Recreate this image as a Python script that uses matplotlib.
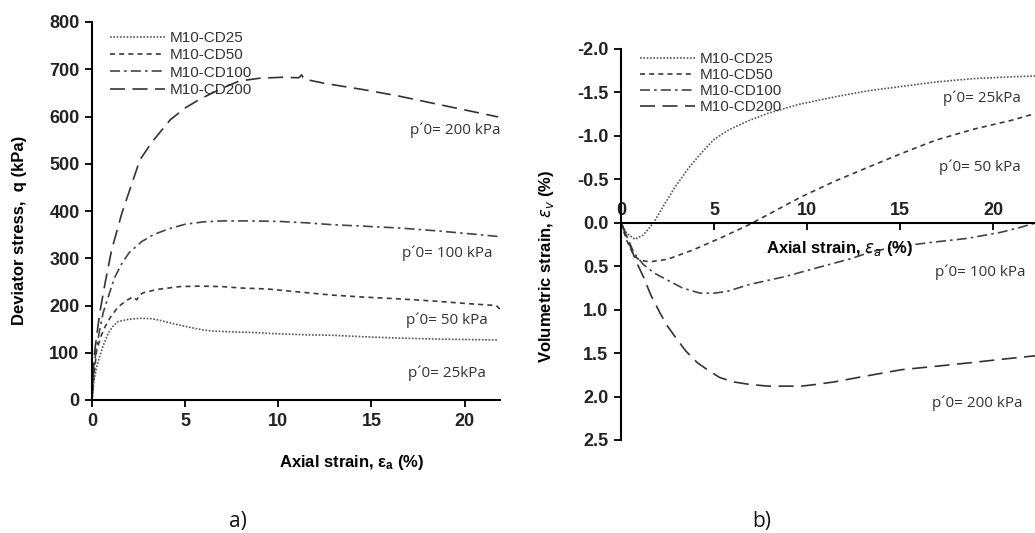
# Curvas de ensayos triaxiales CD: q vs ea y ev vs ea
import numpy as np
import matplotlib
matplotlib.use("Agg")
import matplotlib.pyplot as plt

# Datos (a) - tension desviadora
ea25_a = [0, 0.1, 0.25, 0.41, 0.6, 0.87, 1.1, 1.4, 2.0, 2.66, 3.2, 3.6, 4.3, 5.1, 6.0, 6.5, 7.5, 8.6, 10, 11.5, 12.9, 14.5, 16.5, 18.5, 20, 21.8]
q25 = [0, 40, 70, 92, 115, 141, 155, 166, 171, 173, 172, 169, 162, 155, 148, 146, 144, 143, 140, 138, 137, 134, 131, 129, 128, 127]

ea50_a = [0, 0.1, 0.25, 0.45, 0.7, 1.0, 1.4, 1.9, 2.2, 2.4, 2.55, 2.75, 3.5, 4.7, 5.8, 7.0, 8.0, 9.4, 11, 12.9, 14.5, 16.5, 18.5, 20.5, 21.7, 21.9]
q50 = [0, 50, 105, 132, 155, 176, 197, 212, 218, 212, 222, 227, 234, 240, 241, 240, 237, 235, 229, 222, 218, 214, 209, 203, 200, 192]

ea100_a = [0, 0.1, 0.2, 0.41, 0.6, 0.87, 1.2, 1.6, 2.0, 2.66, 3.3, 4.1, 5.0, 6.0, 7.0, 8.5, 10, 11.5, 12.9, 14.5, 16.5, 18.5, 20.5, 21.8]
q100 = [0, 60, 100, 148, 185, 218, 258, 289, 312, 335, 350, 362, 372, 377, 379, 379, 378, 375, 371, 368, 364, 358, 351, 346]

ea200_a = [0, 0.05, 0.15, 0.41, 0.7, 1.05, 1.6, 2.2, 2.57, 3.2, 4.2, 5.0, 5.8, 7.0, 7.9, 9.0, 10.2, 11.1, 11.25, 11.4, 12.5, 14.7, 16.5, 18.3, 20.0, 21.8]
q200 = [0, 50, 105, 183, 247, 317, 395, 465, 508, 545, 593, 618, 637, 660, 675, 681, 683, 682, 688, 679, 670, 656, 643, 628, 614, 599]

# Datos (b) - deformacion volumetrica
ea25_b = [0, 0.3, 0.75, 1.2, 1.75, 2.3, 2.9, 3.6, 4.3, 5.0, 5.8, 6.8, 7.9, 9.5, 11.5, 13.3, 15.1, 16.9, 19, 21, 22.3]
ev25 = [0, 0.12, 0.19, 0.14, 0.0, -0.2, -0.41, -0.62, -0.8, -0.96, -1.07, -1.17, -1.26, -1.36, -1.45, -1.52, -1.57, -1.62, -1.66, -1.68, -1.69]

ea50_b = [0, 0.3, 0.7, 1.0, 1.55, 2.5, 3.9, 5.5, 6.9, 8.3, 9.7, 11.5, 13.4, 15.1, 16.9, 19, 21, 22.3]
ev50 = [0, 0.2, 0.38, 0.43, 0.45, 0.42, 0.31, 0.16, 0.02, -0.14, -0.3, -0.48, -0.65, -0.8, -0.95, -1.08, -1.18, -1.26]

ea100_b = [0, 0.3, 0.7, 1.2, 1.8, 2.5, 3.3, 4.25, 5.0, 5.7, 6.9, 8.8, 10.5, 12.4, 13.5, 15, 16.9, 18.6, 20.4, 21.5, 22.3]
ev100 = [0, 0.15, 0.35, 0.48, 0.58, 0.66, 0.75, 0.81, 0.81, 0.79, 0.71, 0.62, 0.52, 0.41, 0.33, 0.27, 0.22, 0.18, 0.11, 0.05, 0.0]

ea200_b = [0, 0.2, 0.5, 0.8, 1.2, 1.6, 2.1, 2.5, 3.0, 3.5, 4.1, 4.7, 5.3, 6.0, 6.9, 7.9, 9.0, 9.7, 10.5, 11.5, 13, 15.1, 17, 18.8, 20.5, 22.3]
ev200 = [0, 0.1, 0.27, 0.44, 0.62, 0.83, 1.04, 1.19, 1.34, 1.48, 1.61, 1.7, 1.78, 1.83, 1.86, 1.88, 1.88, 1.88, 1.86, 1.83, 1.77, 1.69, 1.65, 1.61, 1.57, 1.53]

etiquetas = ["M10-CD25", "M10-CD50", "M10-CD100", "M10-CD200"]
presiones = ["p´0= 25kPa", "p´0= 50 kPa", "p´0= 100 kPa", "p´0= 200 kPa"]

estilos = [(0, (1, 1)), (0, (3, 2.5)), (0, (6, 2.5, 1.5, 2.5)), (0, (9, 4.5))]
colores = ["#555555", "#3a3a3a", "#444444", "#333333"]

W, H = 1035, 533
fig = plt.figure(figsize=(W / 100, H / 100), dpi=100)

def caja(x0, y0, x1, y1):
    # pixeles -> fraccion de figura
    return [x0 / W, 1 - y1 / H, (x1 - x0) / W, (y1 - y0) / H]

tick_font = dict(family="Liberation Sans", weight="bold", size=13)
lab_font = dict(family="Liberation Sans", weight="bold", size=12)
ann_font = dict(family="Open Sans", size=11, color="#333333")
leg_font = dict(family="Liberation Sans", size=11)

# ---------- a) ----------
ax1 = fig.add_axes(caja(92, 22, 500, 400))
datos_a = [(ea25_a, q25), (ea50_a, q50), (ea100_a, q100), (ea200_a, q200)]
for (x, y), ls, c, lab in zip(datos_a, estilos, colores, etiquetas):
    ax1.plot(x, y, linestyle=ls, color=c, lw=1.2, label=lab)
ax1.set_xlim(0, 21.9)
ax1.set_ylim(0, 800)
ax1.set_xticks([0, 5, 10, 15, 20])
ax1.set_yticks(range(0, 801, 100))
ax1.spines["top"].set_visible(False)
ax1.spines["right"].set_visible(False)
for s in ["left", "bottom"]:
    ax1.spines[s].set_linewidth(1.5)
ax1.tick_params(direction="out", length=5, width=1.3, pad=4)
for t in ax1.get_xticklabels() + ax1.get_yticklabels():
    t.set_fontproperties(matplotlib.font_manager.FontProperties(**tick_font))
    t.set_color("#222222")
ax1.legend(loc="upper left", bbox_to_anchor=(110 / W, 1 - 31 / H), bbox_transform=fig.transFigure,
           frameon=False, borderpad=0, borderaxespad=0, handlelength=3.6, handletextpad=0.3,
           labelspacing=0.22, prop=leg_font, labelcolor="#333333")

fig.text(20 / W, 1 - 230 / H, "Deviator stress,  q (kPa)", rotation=90, ha="center", va="center", **lab_font)
fig.text(352 / W, 1 - 463 / H, r"Axial strain, $\mathregular{\varepsilon_a}$ (%)", ha="center", va="center", **lab_font)
pos_a = [(447, 373), (447, 320), (447, 253), (455, 130)]
for (px, py), txt in zip(pos_a, presiones):
    fig.text(px / W, 1 - py / H, txt, ha="center", va="center", **ann_font)
fig.text(238 / W, 1 - 522 / H, "a)", ha="center", va="center", family="Open Sans", size=15, color="#111111")

# ---------- b) ----------
ax2 = fig.add_axes(caja(621, 49, 1036, 440))
datos_b = [(ea25_b, ev25), (ea50_b, ev50), (ea100_b, ev100), (ea200_b, ev200)]
for (x, y), ls, c, lab in zip(datos_b, estilos, colores, etiquetas):
    ax2.plot(x, y, linestyle=ls, color=c, lw=1.2, label=lab)
ax2.set_xlim(0, 22.3)
ax2.set_ylim(2.5, -2.0)
ax2.set_yticks(np.arange(-2.0, 2.51, 0.5))
ax2.set_yticklabels(["%.1f" % v for v in np.arange(-2.0, 2.51, 0.5)])
ax2.set_xticks([0, 5, 10, 15, 20])
ax2.spines["right"].set_visible(False)
ax2.spines["bottom"].set_visible(False)
ax2.spines["top"].set_position(("data", 0))
ax2.spines["top"].set_linewidth(1.5)
ax2.spines["left"].set_linewidth(1.5)
ax2.xaxis.tick_top()
ax2.tick_params(axis="x", direction="in", length=5, width=1.3, pad=3)
ax2.tick_params(axis="y", direction="out", length=5, width=1.3, pad=4)
for t in ax2.get_xticklabels() + ax2.get_yticklabels():
    t.set_fontproperties(matplotlib.font_manager.FontProperties(**tick_font))
    t.set_color("#222222")
ax2.legend(loc="upper left", bbox_to_anchor=(640 / W, 1 - 52 / H), bbox_transform=fig.transFigure,
           frameon=False, borderpad=0, borderaxespad=0, handlelength=3.6, handletextpad=0.3,
           labelspacing=0.13, prop=leg_font, labelcolor="#333333")

fig.text(547 / W, 1 - 266 / H, r"Volumetric strain, $\varepsilon_v$ (%)", rotation=90, ha="center", va="center", **lab_font)
fig.text(840 / W, 1 - 248 / H, r"Axial strain, $\varepsilon_a$ (%)", ha="center", va="center", **lab_font)
pos_b = [(982, 98), (980, 167), (980, 272), (977, 403)]
for (px, py), txt in zip(pos_b, presiones):
    fig.text(px / W, 1 - py / H, txt, ha="center", va="center", **ann_font)
fig.text(762 / W, 1 - 522 / H, "b)", ha="center", va="center", family="Open Sans", size=15, color="#111111")

fig.savefig("out.png", dpi=100)
